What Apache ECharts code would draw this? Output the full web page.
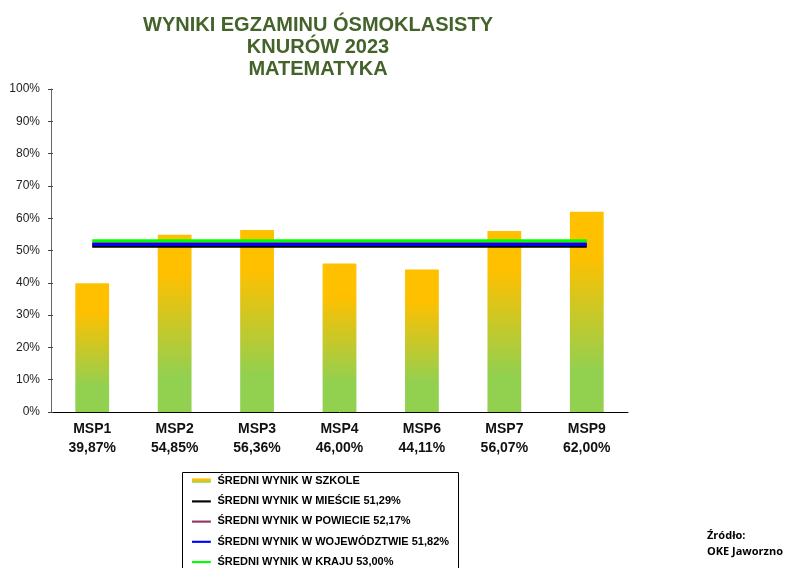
<!DOCTYPE html>
<html>
<head>
<meta charset="utf-8">
<script src="https://cdn.jsdelivr.net/npm/echarts@6/dist/echarts.min.js"></script>
<style>
  html, body { margin: 0; padding: 0; background: #fff; }
  #chart { width: 788px; height: 568px; }
</style>
</head>
<body>
<div id="chart"></div>
<script>
// dane z wykresu
const schools = ['MSP1', 'MSP2', 'MSP3', 'MSP4', 'MSP6', 'MSP7', 'MSP9']
const schoolScores = [39.87, 54.85, 56.36, 46.00, 44.11, 56.07, 62.00]
const avgCity = 51.29
const avgCounty = 52.17
const avgVoivodeship = 51.82
const avgCountry = 53.00
const yTicks = [0, 10, 20, 30, 40, 50, 60, 70, 80, 90, 100]

const fmt = v => v.toFixed(2).replace('.', ',') + '%'

const chart = echarts.init(document.getElementById('chart'))

const barGradient = new echarts.graphic.LinearGradient(0, 0, 0, 1, [
  { offset: 0, color: '#FFC000' },
  { offset: 0.22, color: '#FFC000' },
  { offset: 0.8, color: '#92D050' },
  { offset: 1, color: '#92D050' }
])
// gradient dla ikonki w legendzie
const iconGradient = new echarts.graphic.LinearGradient(0, 0, 0, 1, [
  { offset: 0, color: '#FFC000' },
  { offset: 0.42, color: '#FFC000' },
  { offset: 0.62, color: '#92D050' },
  { offset: 1, color: '#92D050' }
])
const lineIcon = 'path://M0,0 L0,0 M0,6 L22,6 L22,8.5 L0,8.5 Z M22,14 L22,14'

const lineSeries = [
  { name: 'ŚREDNI WYNIK W POWIECIE ' + fmt(avgCounty), value: avgCounty, color: '#993366' },
  { name: 'ŚREDNI WYNIK W MIEŚCIE ' + fmt(avgCity), value: avgCity, color: '#000000' },
  { name: 'ŚREDNI WYNIK W WOJEWÓDZTWIE ' + fmt(avgVoivodeship), value: avgVoivodeship, color: '#0000FF' },
  { name: 'ŚREDNI WYNIK W KRAJU ' + fmt(avgCountry), value: avgCountry, color: '#00FF00' }
]

chart.setOption({
  animation: false,
  textStyle: { fontFamily: 'Liberation Sans, Arial, sans-serif' },
  title: {
    text: 'WYNIKI EGZAMINU ÓSMOKLASISTY\nKNURÓW 2023\nMATEMATYKA',
    left: 313,
    textAlign: 'center',
    top: 9,
    textStyle: {
      color: '#44632A',
      fontSize: 20,
      fontWeight: 'bold',
      lineHeight: 22
    }
  },
  graphic: [{
    type: 'rect',
    shape: { x: 182.5, y: 472.5, width: 276, height: 130 },
    style: { fill: 'none', stroke: '#000', lineWidth: 1 },
    silent: true
  }, {
    type: 'text',
    left: 707,
    top: 528,
    style: {
      text: 'Źródło:\nOKE Jaworzno',
      font: 'bold 11px "Open Sans", sans-serif',
      lineHeight: 16,
      fill: '#000'
    }
  }],
  legend: {
    orient: 'vertical',
    left: 192,
    top: 475,
    padding: 0,
    itemGap: 8.2,
    itemWidth: 22,
    itemHeight: 12,
    textStyle: { fontSize: 11, fontWeight: 'bold', color: '#000', padding: [0, 0, 0, 0] },
    data: [
      { name: 'ŚREDNI WYNIK W SZKOLE', icon: 'path://M0,0 L0,0 M0,4 L22,4 L22,9 L0,9 Z M22,14 L22,14', itemStyle: { color: iconGradient } },
      { name: lineSeries[1].name, icon: lineIcon },
      { name: lineSeries[0].name, icon: lineIcon },
      { name: lineSeries[2].name, icon: lineIcon },
      { name: lineSeries[3].name, icon: lineIcon }
    ]
  },
  grid: { left: 51, right: 160, top: 89, bottom: 156 },
  xAxis: [{
    type: 'category',
    data: schools,
    boundaryGap: true,
    axisLine: { lineStyle: { color: '#000', width: 1 } },
    axisTick: { length: 4, lineStyle: { color: '#000' } },
    axisLabel: {
      interval: 0,
      margin: 8,
      fontSize: 14,
      fontWeight: 'bold',
      color: '#111',
      lineHeight: 19,
      formatter: (name, idx) => name + '\n' + fmt(schoolScores[idx])
    }
  }, {
    type: 'category',
    data: schools,
    position: 'bottom',
    axisLine: { show: false },
    axisTick: { inside: true, length: 4, lineStyle: { color: '#000' } },
    axisLabel: { show: false }
  }],
  yAxis: [{
    type: 'value',
    min: 0,
    max: 100,
    interval: 10,
    axisLine: { show: true, lineStyle: { color: '#666' } },
    axisTick: { show: true, length: 3, lineStyle: { color: '#444' } },
    splitLine: { show: false },
    axisLabel: {
      margin: 11,
      fontSize: 12,
      color: '#222',
      formatter: v => yTicks.includes(v) ? v + '%' : ''
    }
  }, {
    type: 'value',
    min: 0,
    max: 100,
    interval: 10,
    position: 'left',
    axisLine: { show: false },
    axisTick: { show: true, inside: true, length: 2, lineStyle: { color: '#444' } },
    splitLine: { show: false },
    axisLabel: { show: false }
  }],
  series: [{
    name: 'ŚREDNI WYNIK W SZKOLE',
    type: 'bar',
    barWidth: '41%',
    data: schoolScores,
    itemStyle: { color: barGradient }
  }].concat(lineSeries.map(s => ({
    name: s.name,
    type: 'line',
    symbol: 'none',
    data: schools.map(() => s.value),
    lineStyle: { color: s.color, width: 3 },
    itemStyle: { color: s.color },
    z: 3
  })))
})
</script>
</body>
</html>
